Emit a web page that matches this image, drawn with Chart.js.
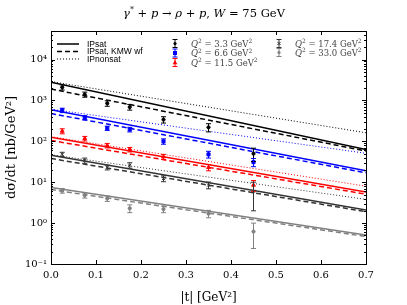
<!DOCTYPE html>
<html>
<head>
<meta charset="utf-8">
<script src="https://cdn.jsdelivr.net/npm/chart.js@4/dist/chart.umd.min.js"></script>
<style>
  html, body { margin: 0; padding: 0; background: #fff; }
  canvas { display: block; }
</style>
</head>
<body>
<canvas id="myChart" width="407" height="305"></canvas>
<script>
// Q^2 values (GeV^2) and colours
const q2Labels = ['3.3', '6.6', '11.5', '17.4', '33.0'];
const q2Colors = ['#000000', '#0000ff', '#ff0000', '#333333', '#808080'];
const q2Markers = ['circle', 'rect', 'triangle', 'crossRot', 'circle'];

// model curves, values at |t| = 0 and |t| = 0.7
const tLine = [0, 0.7];
const ipsat = [[2800, 63], [590, 19], [126, 5.8], [46, 2.1], [7.4, 0.51]];
const ipsatKmw = [[1900, 58], [480, 17], [105, 5.1], [38, 1.9], [6.6, 0.47]];
const ipnonsat = [[2900, 162], [610, 51], [130, 8], [47, 3.8], null];

// measured points
const tData = [0.025, 0.075, 0.125, 0.175, 0.25, 0.35, 0.45];
const data33 = [2100, 1400, 850, 690, 340, 220, 50];
const err33 = [300, 200, 130, 110, 60, 50, 18];
const data66 = [575, 380, 210, 195, 100, 48, 31];
const err66 = [70, 45, 25, 25, 15, 9, 7];
const data115 = [178, 117, 79, 63, 42, 23, 8.5];
const err115 = [25, 15, 10, 8, 6, 4, 2.5];
const data174 = [48, 34, 23, 26, 12.3, 8.5, 6];
const err174 = [6, 5, 3, 4, 2, 1.6, 4];
const data330 = [6.2, 4.8, 4.0, 2.3, 2.2, 1.7, 0.62];
const err330 = [0.8, 0.7, 0.6, 0.5, 0.4, 0.35, 0.38];

const pointSets = [data33, data66, data115, data174, data330];
const errSets = [err33, err66, err115, err174, err330];

const yDecades = [0.1, 1, 10, 100, 1000, 10000];
const xTicks = [0, 0.1, 0.2, 0.3, 0.4, 0.5, 0.6, 0.7];

const SERIF = "'DejaVu Serif', serif";
const SANS = "'Liberation Sans', Arial, sans-serif";

function toXY(xs, ys) {
    return xs.map((x, i) => ({ x: x, y: ys[i] }));
}

const datasets = [];
q2Labels.forEach((q, k) => {
    const c = q2Colors[k];
    datasets.push({ type: 'line', label: 'IPsat ' + q, data: toXY(tLine, ipsat[k]),
        borderColor: c, borderWidth: 1.5, pointRadius: 0, order: 3 });
    datasets.push({ type: 'line', label: 'KMW ' + q, data: toXY(tLine, ipsatKmw[k]),
        borderColor: c, borderWidth: 1.5, borderDash: [5, 3], pointRadius: 0, order: 3 });
    if (ipnonsat[k]) {
        datasets.push({ type: 'line', label: 'nonsat ' + q, data: toXY(tLine, ipnonsat[k]),
            borderColor: c, borderWidth: 1, borderDash: [1, 2], pointRadius: 0, order: 3 });
    }
    datasets.push({ type: 'scatter', label: 'Q2 ' + q, data: toXY(tData, pointSets[k]),
        errs: errSets[k], borderColor: c, backgroundColor: c, pointStyle: q2Markers[k],
        pointRadius: q2Markers[k] === 'circle' ? 1.6 : 2.2, borderWidth: 1, order: 1 });
});

// draw a run of text pieces, some italic / superscript
function drawRich(ctx, parts, x, y, size, align, color) {
    const fontOf = p => (p.i ? 'italic ' : '') + (p.sup ? size * 0.7 : size) + 'px ' + SERIF;
    let w = 0;
    parts.forEach(p => { ctx.font = fontOf(p); w += ctx.measureText(p.t).width; });
    let cx = align === 'center' ? x - w / 2 : x;
    ctx.fillStyle = color;
    ctx.textBaseline = 'alphabetic';
    ctx.textAlign = 'left';
    parts.forEach(p => {
        ctx.font = fontOf(p);
        ctx.fillText(p.t, cx, p.sup ? y - size * 0.4 : y);
        cx += ctx.measureText(p.t).width;
    });
}

function drawMarker(ctx, style, x, y, color) {
    ctx.fillStyle = color;
    ctx.strokeStyle = color;
    ctx.beginPath();
    if (style === 'rect') {
        ctx.fillRect(x - 2, y - 2, 4, 4);
    } else if (style === 'triangle') {
        ctx.moveTo(x, y - 2.5); ctx.lineTo(x + 2.3, y + 1.7); ctx.lineTo(x - 2.3, y + 1.7);
        ctx.closePath(); ctx.fill();
    } else if (style === 'crossRot') {
        ctx.moveTo(x - 1.6, y - 1.6); ctx.lineTo(x + 1.6, y + 1.6);
        ctx.moveTo(x + 1.6, y - 1.6); ctx.lineTo(x - 1.6, y + 1.6);
        ctx.stroke();
    } else {
        ctx.arc(x, y, 1.6, 0, Math.PI * 2); ctx.fill();
    }
}

function drawErrBar(ctx, x, yTop, yBot, color) {
    ctx.strokeStyle = color;
    ctx.lineWidth = 1;
    ctx.setLineDash([]);
    ctx.beginPath();
    ctx.moveTo(x, yTop); ctx.lineTo(x, yBot);
    ctx.moveTo(x - 2.5, yTop); ctx.lineTo(x + 2.5, yTop);
    ctx.moveTo(x - 2.5, yBot); ctx.lineTo(x + 2.5, yBot);
    ctx.stroke();
}

const decorPlugin = {
    id: 'decor',
    afterDatasetsDraw(chart) {
        const ctx = chart.ctx;
        const xs = chart.scales.x, ys = chart.scales.y, area = chart.chartArea;
        ctx.save();
        ctx.beginPath();
        ctx.rect(area.left, area.top, area.right - area.left, area.bottom - area.top);
        ctx.clip();
        chart.data.datasets.forEach(ds => {
            if (!ds.errs) return;
            ds.data.forEach((p, j) => {
                const e = ds.errs[j];
                const px = xs.getPixelForValue(p.x);
                const yTop = ys.getPixelForValue(p.y + e);
                const yBot = ys.getPixelForValue(Math.max(p.y - e, 1e-3));
                drawErrBar(ctx, px, yTop, yBot, ds.borderColor);
            });
        });
        ctx.restore();
    },
    afterDraw(chart) {
        const ctx = chart.ctx;
        const xs = chart.scales.x, ys = chart.scales.y, a = chart.chartArea;
        ctx.save();
        ctx.setLineDash([]);
        ctx.strokeStyle = '#000';
        ctx.lineWidth = 1;

        // inward ticks
        ctx.beginPath();
        xTicks.forEach(v => {
            const px = Math.round(xs.getPixelForValue(v)) + 0.5;
            ctx.moveTo(px, a.bottom); ctx.lineTo(px, a.bottom - 4);
            ctx.moveTo(px, a.top); ctx.lineTo(px, a.top + 4);
        });
        yDecades.forEach(d => {
            const py = Math.round(ys.getPixelForValue(d)) + 0.5;
            ctx.moveTo(a.left, py); ctx.lineTo(a.left + 4, py);
            ctx.moveTo(a.right, py); ctx.lineTo(a.right - 4, py);
            for (let m = 2; m <= 9; m++) {
                const v = d * m;
                if (v > ys.max) break;
                const pm = Math.round(ys.getPixelForValue(v)) + 0.5;
                ctx.moveTo(a.left, pm); ctx.lineTo(a.left + 2, pm);
                ctx.moveTo(a.right, pm); ctx.lineTo(a.right - 2, pm);
            }
        });
        ctx.stroke();

        // frame
        ctx.strokeRect(Math.round(a.left) + 0.5, Math.round(a.top) + 0.5,
            Math.round(a.right - a.left), Math.round(a.bottom - a.top));

        // title
        drawRich(ctx, [
            { t: 'γ', i: true }, { t: '*', sup: true }, { t: ' + ' }, { t: 'p', i: true },
            { t: ' → ' }, { t: 'ρ', i: true }, { t: ' + ' }, { t: 'p', i: true }, { t: ', ' },
            { t: 'W', i: true }, { t: ' = 75 GeV' }
        ], 204, 17, 11.5, 'center', '#000');

        // model legend
        const styles = [[[], 1.5], [[5, 3], 1.5], [[1, 2], 1]];
        const names = ['IPsat', 'IPsat, KMW wf', 'IPnonsat'];
        const rowsY = [44, 51.5, 59];
        names.forEach((n, i) => {
            ctx.setLineDash(styles[i][0]);
            ctx.lineWidth = styles[i][1];
            ctx.strokeStyle = '#000';
            ctx.beginPath();
            ctx.moveTo(57, rowsY[i]); ctx.lineTo(79, rowsY[i]);
            ctx.stroke();
            ctx.fillStyle = '#000';
            ctx.font = '8.5px ' + SANS;
            ctx.textAlign = 'left';
            ctx.textBaseline = 'middle';
            ctx.fillText(n, 87, rowsY[i] + 0.5);
        });
        ctx.setLineDash([]);

        // Q^2 legend
        const legPos = [[175, 43.5], [175, 53], [175, 62.5], [279, 43.5], [279, 52.5]];
        q2Labels.forEach((q, k) => {
            const [lx, ly] = legPos[k];
            drawErrBar(ctx, lx, ly - 4, ly + 4, q2Colors[k]);
            drawMarker(ctx, q2Markers[k], lx, ly, q2Colors[k]);
            drawRich(ctx, [{ t: 'Q', i: true }, { t: '2', sup: true },
                { t: ' = ' + q + ' GeV' }, { t: '2', sup: true }],
                lx + 16, ly + 3, 8.5, 'left', '#444');
        });
        ctx.restore();
    }
};

const supMap = { '-': '⁻', '0': '⁰', '1': '¹', '2': '²', '3': '³', '4': '⁴', '5': '⁵' };

const ctx = document.getElementById('myChart').getContext('2d');
const myChart = new Chart(ctx, {
    data: { datasets: datasets },
    options: {
        responsive: false,
        animation: false,
        devicePixelRatio: 1,
        layout: { padding: { top: 31, right: 41, left: 0, bottom: 0 } },
        plugins: { legend: { display: false }, tooltip: { enabled: false } },
        scales: {
            x: {
                type: 'linear', min: 0, max: 0.7,
                grid: { display: false, drawTicks: false },
                border: { display: false },
                afterBuildTicks: s => { s.ticks = xTicks.map(v => ({ value: v })); },
                afterFit: s => { s.height = 41; },
                ticks: {
                    color: '#000', padding: 5, maxRotation: 0,
                    font: { family: SERIF, size: 10 },
                    callback: v => v.toFixed(1)
                },
                title: {
                    display: true, text: '|t| [GeV²]', color: '#000',
                    font: { family: SERIF, size: 12 }, padding: { top: 9, bottom: 0 }
                }
            },
            y: {
                type: 'logarithmic', min: 0.1, max: 50000,
                grid: { display: false, drawTicks: false },
                border: { display: false },
                afterBuildTicks: s => { s.ticks = yDecades.map(v => ({ value: v })); },
                afterFit: s => { s.width = 51; },
                ticks: {
                    color: '#000', padding: 4,
                    font: { family: SERIF, size: 10 },
                    callback: v => '10' + String(Math.round(Math.log10(v))).split('').map(c => supMap[c]).join('')
                },
                title: {
                    display: true, text: 'dσ/dt [nb/GeV²]', color: '#000',
                    font: { family: SERIF, size: 13 }, padding: { top: 4, bottom: 2 }
                }
            }
        }
    },
    plugins: [decorPlugin]
});
</script>
</body>
</html>
